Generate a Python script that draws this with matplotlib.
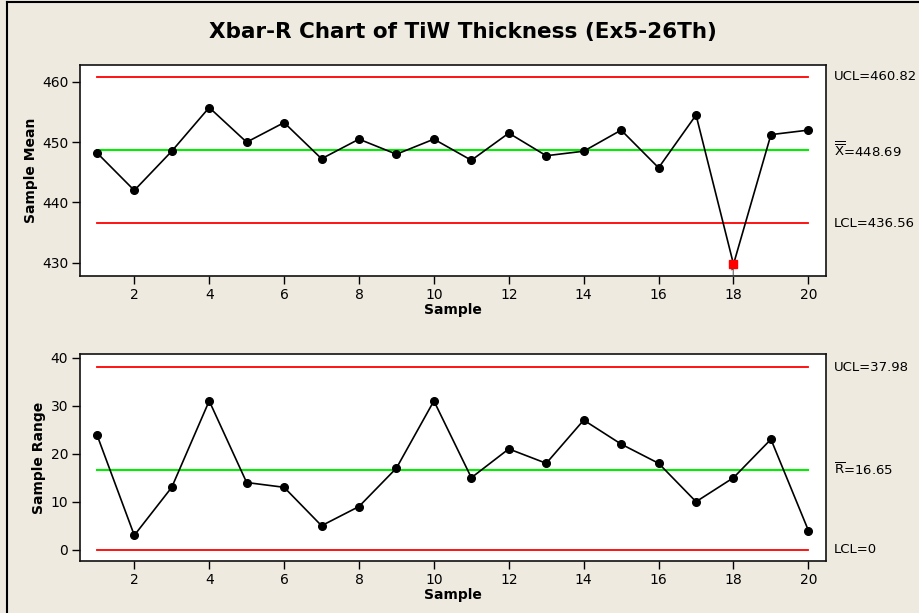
import matplotlib
matplotlib.use("Agg")
import matplotlib.pyplot as plt
import numpy as np
from matplotlib.lines import Line2D

# ---- data ----
samples = list(range(1, 21))
sample_means = [448.25, 442.0, 448.5, 455.75, 450.0, 453.25, 447.25, 450.5, 448.0, 450.5,
                447.0, 451.5, 447.75, 448.5, 452.0, 445.75, 454.5, 429.75, 451.25, 452.0]
sample_ranges = [24, 3, 13, 31, 14, 13, 5, 9, 17, 31,
                 15, 21, 18, 27, 22, 18, 10, 15, 23, 4]
xbar_ucl, xbar_center, xbar_lcl = 460.82, 448.69, 436.56
r_ucl, r_center, r_lcl = 37.98, 16.65, 0.0
mean_ticks = [430, 440, 450, 460]
range_ticks = [0, 10, 20, 30, 40]
x_ticks = [2, 4, 6, 8, 10, 12, 14, 16, 18, 20]

title = "Xbar-R Chart of TiW Thickness (Ex5-26Th)"

plt.rcParams['font.family'] = ['DejaVu Sans']
plt.rcParams['mathtext.fontset'] = 'dejavusans'

W, H = 919, 613
bg = '#EEEAE0'
fig = plt.figure(figsize=(W / 100, H / 100), dpi=100, facecolor=bg)

def fx(px):
    return px / W

def fy(py):
    return 1 - py / H

ax1 = fig.add_axes([fx(80), fy(276), fx(826) - fx(80), (276 - 65) / H])
ax2 = fig.add_axes([fx(80), fy(561), fx(826) - fx(80), (561 - 354) / H])

x = np.array(samples)

def style(ax, ylim, yticks):
    ax.set_facecolor('white')
    ax.set_xlim(0.55, 20.47)
    ax.set_ylim(*ylim)
    ax.set_yticks(yticks)
    ax.set_xticks(x_ticks)
    ax.tick_params(axis='both', direction='out', length=5.5, width=1.0,
                   labelsize=10, pad=3, colors='black')
    for s in ax.spines.values():
        s.set_linewidth(1.2)
        s.set_color('#111111')

# ---- Xbar chart ----
style(ax1, (427.8, 462.8), mean_ticks)
ax1.plot([1, 20], [xbar_ucl] * 2, color='#FF0000', lw=1.3)
ax1.plot([1, 20], [xbar_lcl] * 2, color='#FF0000', lw=1.3)
ax1.plot([1, 20], [xbar_center] * 2, color='#00EE00', lw=1.5)
m = np.array(sample_means)
ax1.plot(x, m, color='black', lw=1.2, zorder=3)
ooc = (m > xbar_ucl) | (m < xbar_lcl)
ax1.plot(x[~ooc], m[~ooc], 'o', color='black', ms=5.5, zorder=4)
ax1.plot(x[ooc], m[ooc], 's', color='#FF0000', ms=5.5, zorder=5)
for xi, yi in zip(x[ooc], m[ooc]):
    ax1.annotate('1', (xi, yi), xytext=(0, -3.5), textcoords='offset points',
                 ha='center', va='top', fontsize=7, color='#444444', zorder=10,
                 annotation_clip=False, clip_on=False)
ax1.set_ylabel('Sample Mean', fontsize=10, fontweight='bold', labelpad=3)
ax1.set_xlabel('Sample', fontsize=10, fontweight='bold', labelpad=1)

trans1 = ax1.get_yaxis_transform()
lx = (834 - 80) / (826 - 80)
fs_r = 9.5
ax1.text(lx, xbar_ucl, 'UCL=460.82', transform=trans1, va='center', ha='left', fontsize=fs_r)
ax1.text(lx, xbar_center, r'$\overline{\overline{\mathrm{X}}}$=448.69', transform=trans1,
         va='center', ha='left', fontsize=fs_r)
ax1.text(lx, xbar_lcl, 'LCL=436.56', transform=trans1, va='center', ha='left', fontsize=fs_r)

# ---- R chart ----
style(ax2, (-2.35, 40.77), range_ticks)
ax2.plot([1, 20], [r_ucl] * 2, color='#FF0000', lw=1.3)
ax2.plot([1, 20], [r_lcl] * 2, color='#FF0000', lw=1.3)
ax2.plot([1, 20], [r_center] * 2, color='#00EE00', lw=1.5)
r = np.array(sample_ranges)
ax2.plot(x, r, color='black', lw=1.2, zorder=3)
ax2.plot(x, r, 'o', color='black', ms=5.5, zorder=4)
ax2.set_ylabel('Sample Range', fontsize=10, fontweight='bold', labelpad=3)
ax2.set_xlabel('Sample', fontsize=10, fontweight='bold', labelpad=1)
trans2 = ax2.get_yaxis_transform()
ax2.text(lx, r_ucl, 'UCL=37.98', transform=trans2, va='center', ha='left', fontsize=fs_r)
ax2.text(lx, r_center, r'$\overline{\mathrm{R}}$=16.65', transform=trans2,
         va='center', ha='left', fontsize=fs_r)
ax2.text(lx, r_lcl, 'LCL=0', transform=trans2, va='center', ha='left', fontsize=fs_r)

# ---- title and frame ----
fig.text(fx(463), fy(32), title, ha='center', va='center', fontsize=15.5, fontweight='bold')
fig.add_artist(Line2D([fx(7), 1], [fy(2), fy(2)], color='black', lw=1.5))
fig.add_artist(Line2D([fx(7), fx(7)], [fy(2), 0], color='black', lw=1.5))

fig.savefig('out.png', dpi=100, facecolor=bg)
